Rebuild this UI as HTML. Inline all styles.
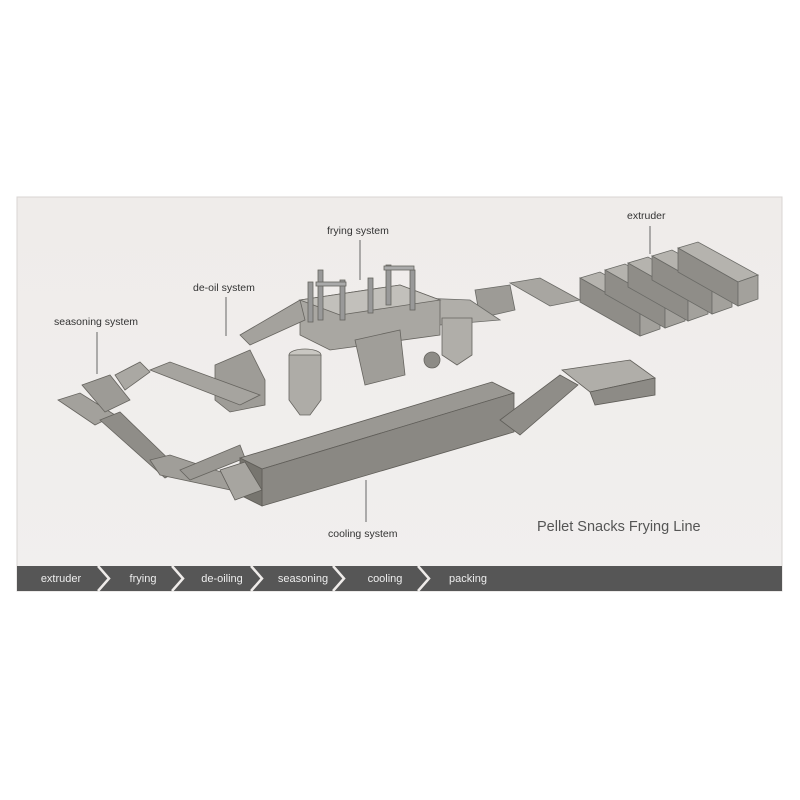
<!DOCTYPE html>
<html><head><meta charset="utf-8"><style>
body{margin:0;background:#fff;width:800px;height:800px;overflow:hidden;font-family:"Liberation Sans",sans-serif}
svg{position:absolute;left:0;top:0}
</style></head><body>
<svg width="800" height="800" viewBox="0 0 800 800" font-family="Liberation Sans, sans-serif">
<defs>
<linearGradient id="bg" x1="0" y1="0" x2="0" y2="1"><stop offset="0" stop-color="#efecea"/><stop offset="1" stop-color="#f1efee"/></linearGradient>
</defs>
<rect x="17" y="197" width="765" height="394" fill="url(#bg)" stroke="#d8d5d3"/>
<g fill="#333" font-size="10.5">
<text x="327" y="234">frying system</text>
<text x="627" y="219">extruder</text>
<text x="193" y="291">de-oil system</text>
<text x="54" y="325">seasoning system</text>
<text x="328" y="537">cooling system</text>
</g>
<g stroke="#666" stroke-width="1">
<line x1="360" y1="240" x2="360" y2="280"/>
<line x1="650" y1="226" x2="650" y2="254"/>
<line x1="226" y1="297" x2="226" y2="336"/>
<line x1="97" y1="332" x2="97" y2="374"/>
<line x1="366" y1="480" x2="366" y2="522"/>
</g>
<text x="537" y="531" font-size="14.5" fill="#555">Pellet Snacks Frying Line</text>

<g stroke="#6a6a66" stroke-width="0.8">
<g id="ex"><polygon points="580,278 600,272 660,305 640,312" fill="#b5b3ae"/><polygon points="580,278 640,312 640,336 580,302" fill="#8f8d88"/><polygon points="640,312 660,305 660,329 640,336" fill="#a3a19c"/></g>
<use href="#ex" transform="translate(25,-8)"/>
<use href="#ex" transform="translate(48,-15)"/>
<use href="#ex" transform="translate(72,-22)"/>
<use href="#ex" transform="translate(98,-30)"/>
</g>
<g stroke="#6a6a66" stroke-width="0.8" fill="#a8a6a1">
<polygon points="510,283 540,278 580,300 550,306"/>
<polygon points="475,290 510,285 515,310 480,318" fill="#9d9b96"/>
<polygon points="420,298 470,300 500,320 440,325" fill="#b0aea9"/>
</g>
<g stroke="#66645f" stroke-width="0.8">
<polygon points="300,300 400,285 440,300 440,335 330,350 300,335" fill="#a9a7a2"/>
<polygon points="300,300 400,285 440,300 340,315" fill="#c2c0bb"/>
<rect x="308" y="282" width="5" height="40" fill="#999"/>
<rect x="318" y="270" width="5" height="50" fill="#999"/>
<rect x="340" y="280" width="5" height="40" fill="#999"/>
<rect x="368" y="278" width="5" height="35" fill="#999"/>
<rect x="386" y="265" width="5" height="40" fill="#999"/>
<rect x="410" y="270" width="5" height="40" fill="#999"/>
<rect x="316" y="282" width="30" height="4" fill="#aaa"/>
<rect x="384" y="266" width="30" height="4" fill="#aaa"/>
<polygon points="355,340 400,330 405,375 365,385" fill="#a09e99"/>
<ellipse cx="305" cy="355" rx="16" ry="6" fill="#c9c7c2"/>
<polygon points="289,355 321,355 321,400 310,415 300,415 289,400" fill="#aeaca7"/>
<polygon points="442,318 472,318 472,355 457,365 442,355" fill="#b0aea9"/>
<circle cx="432" cy="360" r="8" fill="#8d8b86"/>
</g>
<g stroke="#66645f" stroke-width="0.8">
<polygon points="240,335 300,300 305,320 250,345" fill="#a4a29d"/>
<polygon points="215,365 250,350 265,380 265,405 230,412 215,400" fill="#9e9c97"/>
<polygon points="150,370 170,362 260,395 240,405" fill="#a6a49f"/>
</g>
<g stroke="#66645f" stroke-width="0.8">
<polygon points="58,400 80,393 115,415 95,425" fill="#a3a19c"/>
<polygon points="82,385 110,375 130,400 105,412" fill="#9d9b96"/>
<polygon points="115,375 140,362 150,372 125,390" fill="#aaa8a3"/>
<polygon points="100,420 120,412 180,470 165,478" fill="#8f8d88"/>
<polygon points="150,460 170,455 245,480 240,492 160,475" fill="#a09e99"/>
<polygon points="180,470 240,445 245,458 190,480" fill="#9a9893"/>
</g>
<g stroke="#5f5d58" stroke-width="0.8">
<polygon points="240,458 492,382 514,393 262,469" fill="#9a9893"/>
<polygon points="262,469 514,393 514,432 262,506" fill="#8a8883"/>
<polygon points="240,458 262,469 262,506 240,495" fill="#77756f"/>
<polygon points="220,470 245,462 262,490 235,500" fill="#a7a5a0"/>
</g>
<g stroke="#5f5d58" stroke-width="0.8">
<polygon points="500,420 560,375 578,385 520,435" fill="#8f8d88"/>
<polygon points="562,370 630,360 655,378 590,392" fill="#b0aea9"/>
<polygon points="590,392 655,378 655,395 595,405" fill="#8d8b86"/>
</g>

<rect x="17" y="566" width="765" height="25" fill="#565656"/>
<g fill="none" stroke="#efecea" stroke-width="2.5">
<polyline points="98,566 109,578.5 98,591"/>
<polyline points="172,566 183,578.5 172,591"/>
<polyline points="251,566 262,578.5 251,591"/>
<polyline points="333,566 344,578.5 333,591"/>
<polyline points="418,566 429,578.5 418,591"/>
</g>
<g fill="#eeeeee" font-size="11" text-anchor="middle">
<text x="61" y="582">extruder</text>
<text x="143" y="582">frying</text>
<text x="222" y="582">de-oiling</text>
<text x="303" y="582">seasoning</text>
<text x="385" y="582">cooling</text>
<text x="468" y="582">packing</text>
</g>
</svg>
</body></html>
